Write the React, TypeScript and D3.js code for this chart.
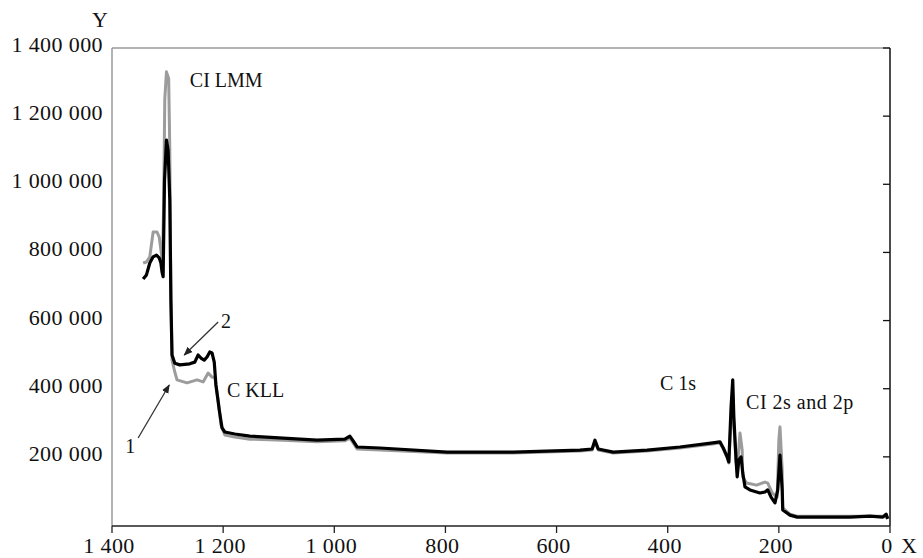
import React from "react";
import * as d3 from "d3";

// Binding energy (eV) and intensity for curve 2 (black)
const blackE = [1344, 1338, 1332, 1326, 1320, 1315, 1312, 1310, 1308, 1305.5, 1302, 1299, 1296, 1294, 1292, 1287, 1278, 1260, 1251, 1245, 1240, 1234, 1229, 1224, 1220, 1216, 1213, 1207, 1202, 1197, 1179, 1152, 1092, 1031, 981, 972, 966, 959, 918, 797, 678, 558, 536, 531, 525, 498, 437, 378, 319, 306, 300, 293, 290, 286, 283, 281, 277, 275, 272, 268, 265, 261, 252, 234, 225, 220, 214, 207, 202, 198, 194, 193, 180, 167, 131, 72, 36, 13, 7, 4];
const blackI = [722000, 734000, 769000, 787000, 792000, 784000, 769000, 743000, 729000, 1010000, 1130000, 1100000, 954000, 660000, 499000, 475000, 470000, 473000, 478000, 499000, 490000, 484000, 493000, 508000, 505000, 478000, 411000, 338000, 285000, 273000, 267000, 261000, 255000, 249000, 252000, 261000, 247000, 229000, 226000, 214000, 214000, 220000, 223000, 249000, 223000, 214000, 220000, 229000, 241000, 244000, 226000, 200000, 185000, 346000, 426000, 317000, 191000, 141000, 191000, 200000, 153000, 112000, 103000, 94000, 97000, 103000, 82000, 65000, 103000, 205000, 103000, 44000, 29000, 23000, 23000, 23000, 26000, 23000, 32000, 18000];

// Curve 1 (grey)
const greyE = [1344, 1338, 1332, 1326, 1319, 1315, 1312, 1309, 1307, 1305, 1302, 1298, 1296, 1294, 1292, 1287, 1283, 1265, 1247, 1236, 1227, 1220, 1215, 1209, 1204, 1197, 1179, 1152, 1092, 1031, 981, 972, 966, 959, 918, 797, 678, 558, 536, 531, 525, 498, 437, 378, 319, 306, 300, 293, 290, 286, 283, 281, 277, 275, 270, 266, 265, 258, 240, 225, 220, 212, 203, 200, 198, 194, 193, 180, 167, 131, 72, 13, 4];
const greyI = [769000, 772000, 787000, 860000, 860000, 845000, 807000, 772000, 954000, 1250000, 1330000, 1310000, 1100000, 660000, 484000, 449000, 426000, 417000, 426000, 420000, 446000, 434000, 434000, 367000, 294000, 264000, 258000, 252000, 249000, 244000, 247000, 255000, 241000, 223000, 220000, 211000, 211000, 217000, 220000, 244000, 220000, 211000, 217000, 226000, 238000, 241000, 223000, 197000, 182000, 308000, 382000, 294000, 185000, 161000, 270000, 220000, 141000, 123000, 117000, 126000, 123000, 94000, 82000, 250000, 288000, 161000, 50000, 32000, 26000, 26000, 26000, 26000, 21000];

const xTicks = [1400, 1200, 1000, 800, 600, 400, 200, 0];
const xTickLabels = ["1 400", "1 200", "1 000", "800", "600", "400", "200", "0"];
const yTicks = [200000, 400000, 600000, 800000, 1000000, 1200000, 1400000];
const yTickLabels = ["200 000", "400 000", "600 000", "800 000", "1 000 000", "1 200 000", "1 400 000"];

const W = 923;
const H = 558;
const L = 112, R = 890, T = 48, B = 525;
const FONT = "'Liberation Serif', 'Times New Roman', serif";

export default function App() {
  const x = d3.scaleLinear().domain([1400, 0]).range([L, R]);
  const y = d3.scaleLinear().domain([0, 1400000]).range([B, T]);
  const line = d3
    .line<[number, number]>()
    .x((d) => x(d[0]))
    .y((d) => y(d[1]));
  const black = blackE.map((e, i) => [e, blackI[i]] as [number, number]);
  const grey = greyE.map((e, i) => [e, greyI[i]] as [number, number]);

  return (
    <svg
      width={W}
      height={H}
      style={{ position: "absolute", left: 0, top: 0, background: "#fff" }}
      fontFamily={FONT}
    >
      <defs>
        <marker id="ah" viewBox="0 0 10 10" refX="9" refY="5" markerWidth="9" markerHeight="9" orient="auto" markerUnits="userSpaceOnUse">
          <path d="M0,1 L10,5 L0,9 Z" fill="#222" />
        </marker>
      </defs>
      {/* frame */}
      <line x1={L} y1={T} x2={L} y2={B + 1} stroke="#9a9a9a" strokeWidth={1.5} />
      <line x1={L} y1={T} x2={R} y2={T} stroke="#9a9a9a" strokeWidth={1.5} />
      <line x1={R} y1={T} x2={R} y2={B + 1} stroke="#111" strokeWidth={1.5} />
      <line x1={L} y1={B + 1} x2={R} y2={B + 1} stroke="#222" strokeWidth={1.5} />
      {/* right-axis inward ticks */}
      {yTicks.map((v) => (
        <line key={"yt" + v} x1={R - 7} x2={R} y1={y(v)} y2={y(v)} stroke="#111" strokeWidth={1.3} />
      ))}
      {/* bottom ticks */}
      {xTicks.map((v) => (
        <line key={"xt" + v} x1={x(v)} x2={x(v)} y1={B + 1} y2={B + 8} stroke="#222" strokeWidth={1.3} />
      ))}
      {/* curves */}
      <path d={line(grey) || ""} fill="none" stroke="#9c9c9c" strokeWidth={3} strokeLinejoin="round" />
      <path d={line(black) || ""} fill="none" stroke="#000" strokeWidth={3.2} strokeLinejoin="round" />
      {/* y tick labels */}
      {yTicks.map((v, i) => (
        <text key={"yl" + v} x={103} y={y(v) + 4} textAnchor="end" fontSize={22} letterSpacing={0.4} fill="#111">
          {yTickLabels[i]}
        </text>
      ))}
      {/* x tick labels */}
      {xTicks.map((v, i) => (
        <text key={"xl" + v} x={x(v) - 3} y={553} textAnchor="middle" fontSize={22} letterSpacing={0.4} fill="#111">
          {xTickLabels[i]}
        </text>
      ))}
      <text x={100} y={27} textAnchor="middle" fontSize={22} fill="#111">Y</text>
      <text x={909} y={553} textAnchor="middle" fontSize={22} fill="#111">X</text>
      {/* annotations */}
      <text x={x(1260)} y={87} fontSize={20} fill="#111">CI LMM</text>
      <text x={x(1193)} y={397} fontSize={20} fill="#111">C KLL</text>
      <text x={x(414)} y={390} fontSize={20} fill="#111">C 1s</text>
      <text x={x(259)} y={409} fontSize={20} letterSpacing={0.5} fill="#111">CI 2s and 2p</text>
      <text x={x(1204)} y={328} fontSize={20} fill="#111">2</text>
      <text x={x(1376)} y={453} fontSize={20} fill="#111">1</text>
      <line x1={x(1353)} y1={438} x2={x(1297)} y2={385} stroke="#333" strokeWidth={1.3} markerEnd="url(#ah)" />
      <line x1={x(1209)} y1={322} x2={x(1270)} y2={355} stroke="#333" strokeWidth={1.3} markerEnd="url(#ah)" />
    </svg>
  );
}
